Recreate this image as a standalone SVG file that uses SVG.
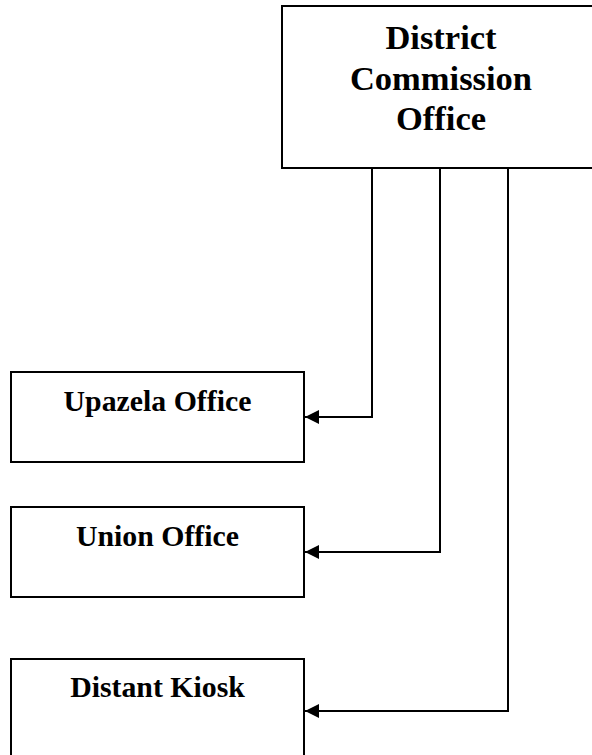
<svg xmlns="http://www.w3.org/2000/svg" width="592" height="755" viewBox="0 0 592 755">
  <style>
    .box { fill: #ffffff; stroke: #000000; stroke-width: 2; }
    .label { font-family: "Liberation Serif", "Times New Roman", serif; font-weight: bold; fill: #000000; text-anchor: middle; }
    .conn { fill: none; stroke: #000000; stroke-width: 2; }
  </style>
  <defs>
    <marker id="arrow" viewBox="0 0 14 14" refX="14" refY="7" markerWidth="14" markerHeight="14" markerUnits="userSpaceOnUse" orient="auto">
      <path d="M0,0 L14,7 L0,14 Z" fill="#000000"/>
    </marker>
  </defs>
  <rect width="592" height="755" fill="#ffffff"/>

  <!-- District Commission Office (runs off the right edge) -->
  <g id="district-office">
    <rect class="box" x="282" y="6" width="318" height="162"/>
    <text class="label" font-size="34.5" x="441" y="49">District</text>
    <text class="label" font-size="34.5" x="441" y="90">Commission</text>
    <text class="label" font-size="34.5" x="441" y="130">Office</text>
  </g>

  <!-- Upazela Office -->
  <g id="upazela-office">
    <rect class="box" x="11" y="372" width="293" height="90"/>
    <text class="label" font-size="29.8" x="157.5" y="411">Upazela Office</text>
  </g>

  <!-- Union Office -->
  <g id="union-office">
    <rect class="box" x="11" y="507" width="293" height="90"/>
    <text class="label" font-size="29.8" x="157.5" y="546">Union Office</text>
  </g>

  <!-- Distant Kiosk (runs off the bottom edge) -->
  <g id="distant-kiosk">
    <rect class="box" x="11" y="659" width="293" height="110"/>
    <text class="label" font-size="29.8" x="157.5" y="697">Distant Kiosk</text>
  </g>

  <!-- Connectors -->
  <g id="connectors">
    <path class="conn" d="M372,168 V417 H305" marker-end="url(#arrow)"/>
    <path class="conn" d="M440,168 V552 H305" marker-end="url(#arrow)"/>
    <path class="conn" d="M508,168 V711 H305" marker-end="url(#arrow)"/>
  </g>
</svg>
